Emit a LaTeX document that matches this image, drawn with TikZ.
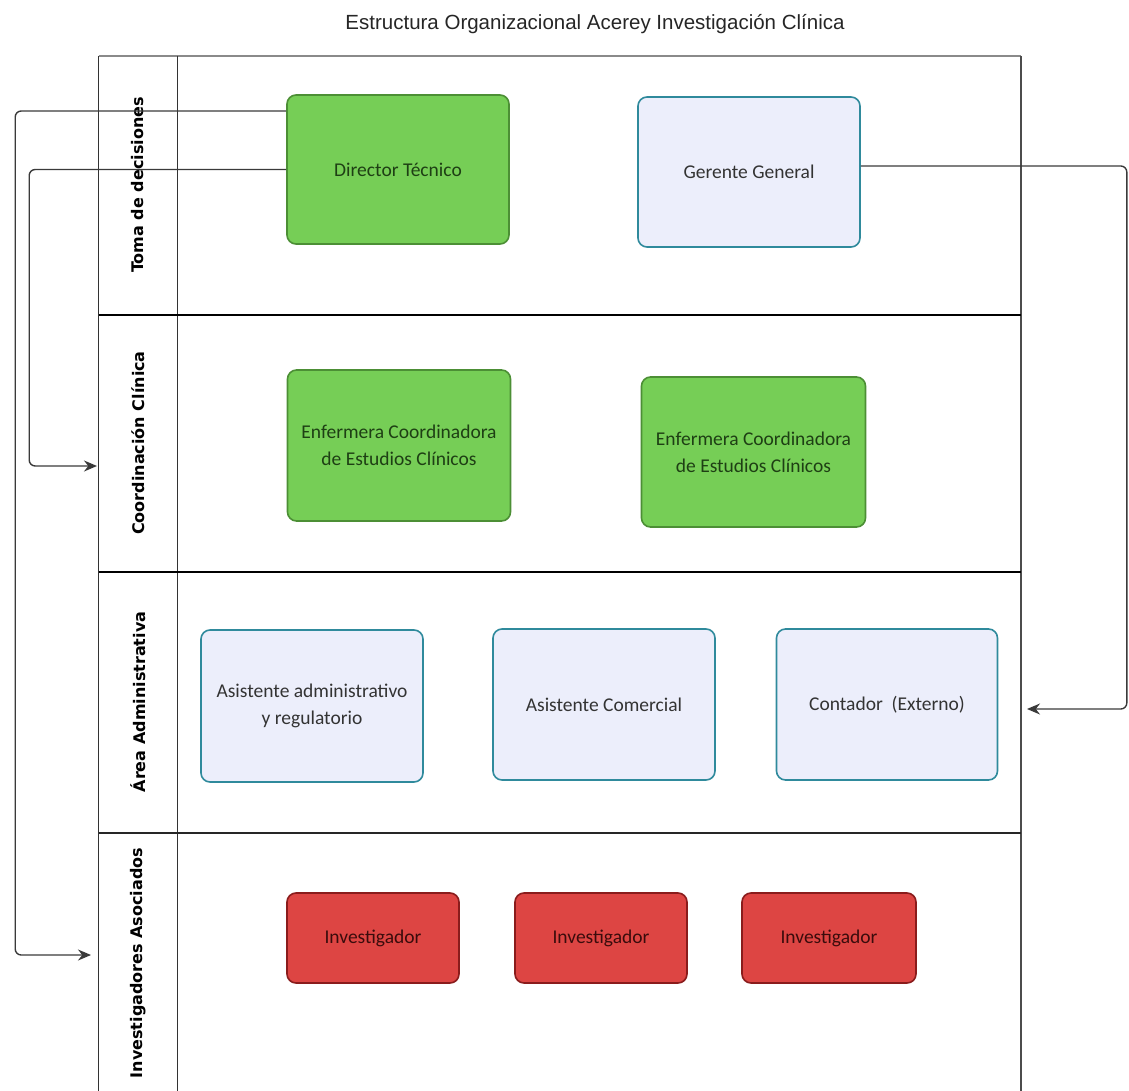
\documentclass[tikz,border=0pt]{standalone}
\usepackage{fontspec}
\setmainfont{Carlito}
\newfontfamily\titlefont{Liberation Sans}
\newfontfamily\lanefont{DejaVu Sans}
\usetikzlibrary{arrows.meta}
\definecolor{grnfill}{HTML}{76CE56}
\definecolor{grndraw}{HTML}{4C8F35}
\definecolor{grntext}{HTML}{1E3F14}
\definecolor{blufill}{HTML}{ECEEFB}
\definecolor{bludraw}{HTML}{2F8A9C}
\definecolor{blutext}{HTML}{333333}
\definecolor{redfill}{HTML}{DD4543}
\definecolor{reddraw}{HTML}{8A1C1C}
\definecolor{redtext}{HTML}{3A0C0C}
\definecolor{lnk}{HTML}{3A3A3A}
\definecolor{lanegray}{HTML}{8A8A8A}
\begin{document}
\begin{tikzpicture}[x=1pt,y=-1pt,
  box/.style={rounded corners=9pt, line width=1.6pt, align=center, inner sep=0pt,
    font=\fontsize{19.5}{27}\selectfont},
  gbox/.style={box, fill=grnfill, draw=grndraw, text=grntext},
  bbox/.style={box, fill=blufill, draw=bludraw, text=blutext},
  rbox/.style={box, fill=redfill, draw=reddraw, text=redtext},
  lanelabel/.style={rotate=90, font=\lanefont\fontsize{16}{20}\selectfont\bfseries, text=black},
  laneline/.style={line width=1.8pt, draw=black},
  conn/.style={draw=lnk, line width=1.4pt, rounded corners=6pt},
  tip/.style={-{Stealth[length=13pt,width=11pt]}}
]
\useasboundingbox (0,0) rectangle (1129,1091);

% title
\node[font=\titlefont\fontsize{20.5}{24}\selectfont, text=black!85] (title) at (595,24)
  {Estructura Organizacional Acerey Investigación Clínica};

% lanes
\draw[line width=2.4pt, draw=lanegray] (98.6,56) -- (1021,56);
\draw[line width=1.5pt, draw=black!80] (98.6,56) -- (98.6,1095);
\draw[line width=1.5pt, draw=black!70] (1021,56) -- (1021,1095);
\draw[line width=1.5pt, draw=black!80] (177.5,56) -- (177.5,1095);
\draw[laneline] (98.6,315) -- (1021,315);
\draw[laneline] (98.6,572) -- (1021,572);
\draw[line width=1.6pt, draw=black!85] (98.6,833) -- (1021,833);
\draw[laneline] (98.6,1093) -- (1021,1093);

\node[lanelabel] (l1) at (138,185) {Toma de decisiones};
\node[lanelabel] (l2) at (138,443) {Coordinación Clínica};
\node[lanelabel] (l3) at (138,702) {Área Administrativa};
\node[lanelabel] (l4) at (138,963) {Investigadores Asociados};

% boxes
\node[gbox, minimum width=222pt, minimum height=149pt] (dir) at (398,169.5) {Director Técnico};
\node[bbox, minimum width=222pt, minimum height=150pt] (ger) at (749,172) {Gerente General};
\node[gbox, minimum width=223pt, minimum height=151pt] (enf1) at (399,445.5) {Enfermera Coordinadora\\de Estudios Clínicos};
\node[gbox, minimum width=224pt, minimum height=150pt] (enf2) at (753.5,452) {Enfermera Coordinadora\\de Estudios Clínicos};
\node[bbox, minimum width=222pt, minimum height=152pt] (asa) at (312,706) {Asistente administrativo\\y regulatorio};
\node[bbox, minimum width=222pt, minimum height=151pt] (asc) at (604,704.5) {Asistente Comercial};
\node[bbox, minimum width=221pt, minimum height=151pt] (cont) at (887,704.5) {Contador\ \ (Externo)};
\node[rbox, minimum width=172pt, minimum height=90pt] (inv1) at (373,938) {Investigador};
\node[rbox, minimum width=172pt, minimum height=90pt] (inv2) at (601,938) {Investigador};
\node[rbox, minimum width=174pt, minimum height=90pt] (inv3) at (829,938) {Investigador};

% connectors
\coordinate (y1) at (0,111);
\coordinate (yg) at (0,166);
\coordinate (tipInv) at (91,955);
\coordinate (tipCoord) at (97,466);
\coordinate (tipCont) at (1027,709);

\draw[conn, tip] (dir.west |- y1) -- ++(-271,0) |- (tipInv);
\draw[conn, tip] (dir.west) -- ++(-257,0) |- (tipCoord);
\draw[conn, tip] (ger.east |- yg) -- ++(266,0) |- (tipCont);
\end{tikzpicture}
\end{document}
